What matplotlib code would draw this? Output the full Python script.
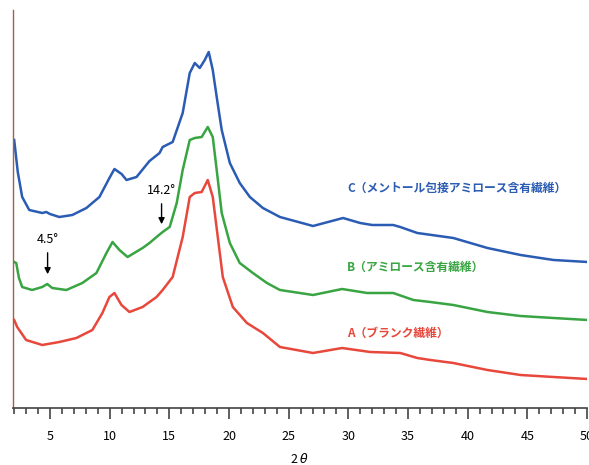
import matplotlib
matplotlib.use('Agg')
import matplotlib.pyplot as plt
from matplotlib.ticker import MultipleLocator

plt.rcParams['font.family'] = ['Noto Sans CJK JP', 'DejaVu Sans']

# 2θ (deg) と強度 (任意単位) — 図から読み取った値
c_2theta = [2.0, 2.3, 2.67, 3.26, 4.35, 4.69, 5.0, 5.78, 6.87, 8.05, 9.14, 9.98, 10.4,
            11.0, 11.41, 12.25, 13.34, 14.18, 14.44, 15.28, 16.12, 16.71, 17.13, 17.55,
            17.97, 18.3, 18.64, 18.97, 19.39, 20.07, 20.9, 21.75, 22.84, 24.27, 27.04,
            29.56, 30.99, 32.0, 33.76, 34.35, 35.78, 38.8, 41.66, 44.43, 47.2, 50.06]
c_int = [268, 236, 211, 198, 195, 196, 194, 191, 193, 200, 211, 230, 239,
         234, 228, 231, 247, 255, 261, 266, 295, 335, 345, 340,
         348, 356, 338, 311, 278, 245, 225, 211, 200, 191, 182,
         190, 185, 183, 183, 181, 175, 170, 160, 153, 148, 146]

b_2theta = [2.0, 2.17, 2.4, 2.67, 3.5, 4.35, 4.77, 5.19, 6.37, 7.71, 8.89, 9.73, 10.24,
            10.82, 11.5, 12.76, 13.34, 13.93, 14.44, 15.03, 15.62, 16.12, 16.71, 17.13,
            17.71, 18.22, 18.64, 18.97, 19.39, 20.07, 20.9, 22.0, 23.18, 24.27, 27.04,
            29.48, 31.58, 33.76, 35.45, 36.87, 38.8, 41.66, 44.43, 47.2, 50.06]
b_int = [146, 145, 130, 121, 118, 121, 124, 120, 118, 125, 135, 155, 166,
         158, 151, 160, 165, 171, 176, 181, 205, 238, 268, 270,
         271, 281, 271, 238, 195, 165, 145, 135, 125, 118, 113,
         119, 115, 115, 108, 106, 103, 96, 92, 90, 88]

a_2theta = [2.0, 2.25, 3.0, 4.35, 5.78, 7.21, 8.55, 9.39, 9.98, 10.4, 10.99, 11.66,
            12.76, 13.93, 14.44, 15.28, 16.12, 16.71, 17.13, 17.71, 18.22, 18.64,
            19.06, 19.48, 20.32, 21.5, 22.84, 24.27, 27.04, 29.48, 31.83, 34.35,
            35.78, 36.87, 38.8, 41.66, 44.43, 47.2, 50.06]
a_int = [88, 81, 68, 63, 66, 70, 78, 95, 111, 115, 103, 96,
         101, 111, 118, 131, 171, 211, 215, 216, 228, 211,
         171, 131, 101, 85, 75, 61, 55, 60, 56, 55,
         50, 48, 45, 38, 33, 31, 29]

series = [
    (c_2theta, c_int, '#2b5cb3', 'C（メントール包接アミロース含有繊維）', 220),
    (b_2theta, b_int, '#38a542', 'B（アミロース含有繊維）', 141),
    (a_2theta, a_int, '#e8473b', 'A（ブランク繊維）', 75),
]

fig = plt.figure(figsize=(5.89, 4.65), dpi=100)
ax = fig.add_axes([13 / 589, 57 / 465, 574 / 589, 398 / 465])

for x, y, col, label, ly in series:
    ax.plot(x, y, color=col, lw=1.8, solid_joinstyle='round')
    ax.text(29.9, ly, label, color=col, fontsize=8.5, fontweight='bold',
            va='center', ha='left')

# 矢印
ax.annotate('', xy=(4.8, 131), xytext=(4.8, 158),
            arrowprops=dict(arrowstyle='-|>', color='black', lw=1, mutation_scale=9))
ax.text(4.8, 169, '4.5°', fontsize=9, ha='center', va='center')
ax.annotate('', xy=(14.35, 181), xytext=(14.35, 207),
            arrowprops=dict(arrowstyle='-|>', color='black', lw=1, mutation_scale=9))
ax.text(14.35, 218, '14.2°', fontsize=9, ha='center', va='center')

ax.set_xlim(1.9, 50)
ax.set_ylim(0, 398)
ax.xaxis.set_major_locator(MultipleLocator(5))
ax.xaxis.set_minor_locator(MultipleLocator(1))
ax.tick_params(axis='x', which='major', direction='out', length=8, width=1.2,
               color='#444444', labelsize=9, pad=8)
ax.tick_params(axis='x', which='minor', direction='out', length=4, width=1.2,
               color='#444444')
ax.set_yticks([])
ax.spines['top'].set_visible(False)
ax.spines['right'].set_visible(False)
ax.spines['left'].set_color('#a0604f')
ax.spines['left'].set_linewidth(1)
ax.spines['bottom'].set_color('#444444')
ax.spines['bottom'].set_linewidth(1.2)
ax.set_xlabel(r'2 $\theta$', fontsize=9, labelpad=6)

fig.savefig('out.png', dpi=100)
